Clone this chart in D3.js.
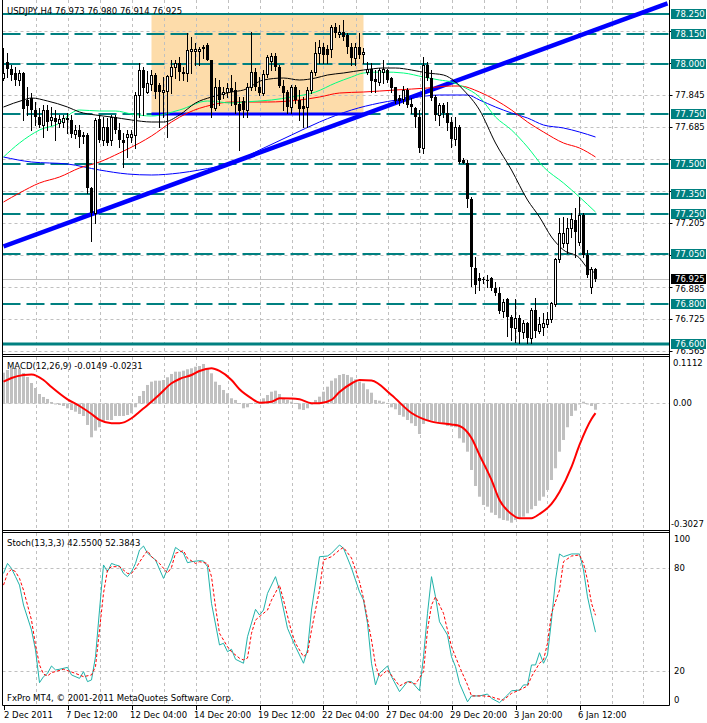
<!DOCTYPE html>
<html><head><meta charset="utf-8">
<script src="https://cdn.jsdelivr.net/npm/d3@7"></script>
<style>
body{margin:0;background:#fff}
svg{display:block}
text{font-family:"DejaVu Sans",sans-serif;font-size:8.5px}
</style>
</head><body>
<svg id="c" width="707" height="723"></svg>
<script>
// ---------------- DATA ----------------
const symbolTitle = "USDJPY,H4 76.973 76.980 76.914 76.925";
const openP = [77.930,78.010,77.975,77.955,77.920,77.955,77.820,77.830,77.770,77.735,
77.695,77.770,77.720,77.730,77.705,77.710,77.730,77.720,77.650,77.670,
77.645,77.645,77.380,77.255,77.725,77.620,77.685,77.620,77.735,77.670,
77.620,77.635,77.635,77.645,77.845,77.970,77.860,77.900,77.945,77.895,
77.860,77.865,77.940,77.985,78.005,77.960,77.955,78.065,78.065,78.065,
78.085,78.095,78.020,77.780,77.885,77.850,77.860,77.880,77.870,77.800,
77.815,77.770,77.885,77.960,77.885,77.855,77.950,78.015,78.040,77.985,
77.890,77.860,77.785,77.885,77.820,77.790,77.785,77.870,77.960,78.055,
78.085,78.075,78.075,78.185,78.150,78.160,78.145,78.085,78.030,78.085,
78.050,77.960,77.975,77.925,77.910,77.960,77.970,77.930,77.885,77.830,
77.825,77.870,77.800,77.780,77.735,77.580,77.995,77.930,77.835,77.745,
77.795,77.755,77.710,77.625,77.685,77.520,77.505,77.325,76.980,76.930,
76.925,76.915,76.930,76.880,76.855,76.765,76.825,76.735,76.680,76.730,
76.660,76.705,76.630,76.770,76.665,76.685,76.700,76.725,76.800,77.025,
77.105,77.105,77.180,77.220,77.110,77.245,77.045,76.885,76.973];
const highP = [78.080,78.055,77.995,77.985,77.970,77.960,77.885,77.855,77.810,77.780,
77.795,77.795,77.785,77.770,77.745,77.745,77.755,77.745,77.695,77.695,
77.660,77.655,77.385,77.730,77.745,77.735,77.730,77.745,77.745,77.705,
77.655,77.670,77.670,77.860,78.005,77.985,77.965,77.970,77.955,77.905,
77.935,77.945,78.020,78.020,78.035,77.985,78.155,78.135,78.105,78.085,
78.095,78.105,78.020,77.930,77.920,77.885,77.905,77.945,77.910,77.835,
77.835,77.905,78.160,77.980,77.935,77.970,78.045,78.055,78.055,77.995,
77.920,77.870,77.895,77.895,77.870,77.835,77.885,77.970,78.110,78.120,
78.105,78.095,78.195,78.205,78.195,78.220,78.155,78.105,78.105,78.155,
78.080,78.010,78.005,77.970,77.980,78.020,77.975,77.935,77.885,77.845,
77.890,77.880,77.830,77.785,77.770,78.035,78.010,77.970,77.845,77.805,
77.805,77.810,77.735,77.735,77.695,77.530,77.520,77.335,77.035,76.955,
76.935,76.945,76.935,76.910,76.885,76.825,76.830,76.745,76.825,76.745,
76.720,76.710,76.780,76.830,76.735,76.755,76.760,76.810,77.030,77.230,
77.235,77.230,77.255,77.280,77.335,77.255,77.070,76.985,76.980];
const lowP = [77.920,77.935,77.920,77.895,77.895,77.720,77.745,77.670,77.695,77.685,
77.635,77.670,77.695,77.620,77.685,77.685,77.655,77.635,77.630,77.585,
77.605,77.355,77.115,77.205,77.610,77.595,77.595,77.595,77.655,77.585,
77.485,77.535,77.610,77.580,77.735,77.745,77.855,77.870,77.830,77.685,
77.735,77.635,77.855,77.930,77.920,77.920,77.915,77.955,77.995,77.995,
78.030,78.020,77.735,77.770,77.795,77.830,77.835,77.795,77.755,77.570,
77.735,77.735,77.870,77.870,77.845,77.845,77.935,77.970,77.970,77.885,
77.770,77.755,77.755,77.805,77.720,77.685,77.685,77.855,77.945,78.005,
78.005,78.005,78.035,78.135,78.135,78.120,78.055,77.995,77.995,78.030,
78.005,77.950,77.860,77.860,77.895,77.905,77.910,77.860,77.805,77.795,
77.805,77.785,77.755,77.685,77.560,77.555,77.920,77.820,77.720,77.695,
77.735,77.670,77.585,77.595,77.505,77.505,77.285,76.890,76.855,76.870,
76.905,76.885,76.870,76.845,76.755,76.735,76.640,76.620,76.610,76.605,
76.630,76.605,76.605,76.635,76.655,76.645,76.685,76.710,76.790,77.010,
77.085,77.055,77.135,77.035,77.095,77.035,76.935,76.855,76.914];
const closeP = [77.955,77.975,77.945,77.920,77.955,77.775,77.790,77.770,77.735,77.695,
77.770,77.710,77.735,77.710,77.725,77.730,77.720,77.650,77.670,77.635,
77.635,77.380,77.255,77.720,77.620,77.685,77.605,77.735,77.670,77.620,
77.605,77.650,77.650,77.845,77.970,77.880,77.905,77.945,77.860,77.860,
77.870,77.940,77.985,78.005,77.960,77.950,78.070,78.075,78.075,78.075,
78.075,78.020,77.780,77.885,77.820,77.860,77.880,77.860,77.795,77.765,
77.770,77.885,77.960,77.885,77.855,77.950,78.035,78.040,77.985,77.890,
77.855,77.785,77.885,77.820,77.775,77.775,77.870,77.960,78.055,78.085,
78.045,78.045,78.185,78.155,78.160,78.135,78.085,78.030,78.085,78.045,
78.060,77.975,77.915,77.910,77.970,77.975,77.920,77.880,77.815,77.815,
77.870,77.795,77.785,77.735,77.580,77.995,77.930,77.830,77.745,77.795,
77.755,77.705,77.625,77.685,77.510,77.505,77.325,76.985,76.895,76.915,
76.920,76.920,76.880,76.855,76.765,76.810,76.735,76.680,76.730,76.660,
76.705,76.630,76.770,76.665,76.700,76.705,76.725,76.805,77.025,77.155,
77.155,77.180,77.225,77.160,77.245,77.045,76.945,76.975,76.925];

// moving averages, [bar index, price]
const maBlack = [[0,77.785],[5,77.82],[7,77.83],[11,77.815],[16,77.785],[19,77.76],[23,77.745],[27,77.735],[32,77.72],[37,77.71],[40,77.71],[44,77.745],[48,77.805],[52,77.835],[57,77.86],[60,77.87],[65,77.92],[70,77.93],[74,77.92],[78,77.93],[81,77.945],[85,77.955],[90,77.97],[95,77.98],[98,77.98],[102,77.97],[106,77.955],[110,77.945],[113,77.91],[115,77.87],[119,77.77],[123,77.605],[127,77.47],[131,77.32],[134,77.235],[137,77.135],[140,77.07],[144,77.03],[146,76.98],[148,76.955]];
const maGreen = [[0,77.535],[4,77.605],[9,77.67],[14,77.705],[17,77.755],[19,77.77],[24,77.765],[28,77.765],[32,77.75],[37,77.74],[44,77.77],[51,77.815],[57,77.805],[60,77.81],[67,77.82],[72,77.835],[78,77.86],[83,77.905],[87,77.935],[90,77.955],[95,77.96],[100,77.955],[105,77.935],[109,77.92],[112,77.91],[115,77.885],[119,77.835],[123,77.735],[127,77.67],[131,77.585],[135,77.485],[140,77.405],[144,77.335],[148,77.26]];
const maRed = [[0,77.31],[4,77.355],[9,77.405],[14,77.435],[19,77.48],[24,77.51],[29,77.555],[34,77.605],[37,77.64],[42,77.71],[46,77.755],[52,77.795],[57,77.81],[66,77.81],[74,77.82],[79,77.835],[84,77.855],[90,77.86],[98,77.87],[106,77.88],[112,77.89],[114,77.89],[119,77.86],[123,77.82],[127,77.77],[131,77.71],[135,77.66],[140,77.605],[144,77.58],[148,77.535]];
const maBlue = [[0,77.535],[7,77.51],[16,77.50],[24,77.47],[31,77.45],[37,77.445],[44,77.455],[49,77.47],[53,77.485],[57,77.505],[64,77.57],[72,77.645],[79,77.71],[87,77.77],[94,77.805],[102,77.83],[109,77.845],[116,77.845],[119,77.82],[123,77.785],[127,77.755],[131,77.73],[135,77.695],[140,77.68],[144,77.66],[148,77.635]];

// drawn objects
const levelPrices = [78.250,78.150,78.000,77.750,77.500,77.350,77.250,77.050,76.800,76.600];
const levelSolid  = [true,false,false,false,false,false,false,false,false,true];
const gridPrices  = [78.165,78.005,77.845,77.685,77.525,77.365,77.205,77.045,76.885,76.725,76.565];
const gridLabelPrices = [77.845,77.685,77.205,76.885,76.725,76.565];
const trendPoints = [[0,77.088],[166,78.303]];
const boxRange    = [37,90,77.750,78.250];
const lastPrice   = 76.925;

// time axis
const timeIdx    = [0,16,32,48,64,80,96,112,128,144];
const timeLabels = ["2 Dec 2011","7 Dec 12:00","12 Dec 04:00","14 Dec 20:00","19 Dec 12:00","22 Dec 04:00","27 Dec 04:00","29 Dec 20:00","3 Jan 20:00","6 Jan 12:00"];

// MACD
const macdHist = [0.0737,0.0801,0.0849,0.0849,0.0825,0.0730,0.0634,0.0490,0.0371,0.0227,
0.0156,0.0108,0.0036,-0.0010,-0.0036,-0.0060,-0.0115,-0.0156,-0.0196,-0.0251,
-0.0299,-0.0514,-0.0809,-0.0651,-0.0569,-0.0435,-0.0395,-0.0395,-0.0299,-0.0299,
-0.0299,-0.0275,-0.0234,-0.0091,0.0179,0.0299,0.0443,0.0522,0.0545,0.0545,
0.0562,0.0627,0.0706,0.0761,0.0761,0.0785,0.0818,0.0842,0.0880,0.0897,
0.0945,0.0842,0.0722,0.0522,0.0443,0.0323,0.0244,0.0124,0.0084,0.0012,
-0.0115,-0.0091,0.0012,0.0019,0.0043,0.0124,0.0203,0.0282,0.0306,0.0227,
0.0124,0.0084,0.0043,0.0012,-0.0139,-0.0156,-0.0115,-0.0012,0.0084,0.0163,
0.0282,0.0402,0.0545,0.0603,0.0682,0.0706,0.0682,0.0627,0.0579,0.0526,
0.0483,0.0340,0.0258,0.0084,0.0067,0.0043,0.0012,-0.0091,-0.0139,-0.0275,
-0.0316,-0.0395,-0.0474,-0.0538,-0.0730,-0.0490,-0.0411,-0.0411,-0.0435,-0.0459,
-0.0474,-0.0538,-0.0555,-0.0569,-0.0833,-0.0938,-0.1153,-0.1591,-0.1974,-0.2230,
-0.2428,-0.2469,-0.2612,-0.2667,-0.2746,-0.2787,-0.2804,-0.2852,-0.2787,-0.2746,
-0.2708,-0.2627,-0.2531,-0.2452,-0.2325,-0.2230,-0.2069,-0.1830,-0.1550,-0.1153,
-0.0873,-0.0569,-0.0299,-0.0172,-0.0012,0.0043,-0.0012,-0.0060,-0.0149];
const macdSignal = [[0,0.0522],[2,0.0610],[5,0.0682],[7,0.0694],[10,0.0562],[12,0.0395],[16,0.0100],[19,-0.0060],[22,-0.0251],[24,-0.0395],[27,-0.0474],[29,-0.0474],[32,-0.0354],[34,-0.0196],[37,0.0043],[39,0.0215],[42,0.0483],[44,0.0586],[47,0.0682],[49,0.0778],[52,0.0842],[54,0.0778],[57,0.0562],[59,0.0340],[62,0.0124],[64,0.0019],[67,0.0043],[69,0.0124],[72,0.0120],[74,0.0100],[77,0.0005],[79,0.0005],[82,0.0084],[84,0.0275],[87,0.0478],[89,0.0562],[92,0.0550],[97,0.0203],[102,-0.0227],[107,-0.0435],[112,-0.0502],[114,-0.0538],[117,-0.0825],[119,-0.1232],[122,-0.1830],[124,-0.2309],[127,-0.2644],[129,-0.2746],[132,-0.2746],[134,-0.2644],[137,-0.2404],[139,-0.2117],[142,-0.1519],[144,-0.0993],[147,-0.0371],[148,-0.0231]];
const macdTicks = [0.1112,0.00,-0.3027];

// Stochastic
const stochMain = [[0,76.7],[1,82.5],[2,79.6],[3,74.8],[4,69.9],[5,58.3],[7,43.8],[8,32.2],[9,13.2],[10,16.7],[11,18.6],[12,22.9],[13,20.6],[14,21.0],[16,22.1],[17,17.7],[19,15.7],[20,19.6],[21,13.8],[22,14.8],[23,28.3],[24,55.4],[25,81.6],[26,77.7],[27,82.5],[28,81.6],[29,81.0],[30,76.7],[31,74.8],[32,77.7],[33,82.5],[34,90.3],[35,92.6],[36,88.4],[38,84.5],[40,73.8],[42,84.5],[43,91.8],[45,88.4],[46,82.9],[47,83.5],[49,84.1],[50,83.9],[51,80.6],[52,59.3],[54,35.1],[55,36.1],[56,31.2],[57,32.6],[58,26.8],[60,24.5],[61,39.9],[63,55.8],[64,52.5],[65,55.4],[66,65.1],[68,74.8],[69,67.0],[71,44.8],[73,34.1],[75,24.5],[76,32.2],[77,55.4],[79,86.4],[81,86.8],[82,88.4],[84,93.2],[85,91.3],[87,79.8],[88,72.8],[89,66.0],[90,61.2],[91,47.7],[92,24.5],[93,11.9],[94,18.6],[96,22.9],[97,16.7],[99,8.0],[101,13.8],[102,13.8],[104,8.5],[105,28.3],[106,53.5],[107,74.8],[108,63.1],[109,48.6],[111,40.9],[112,28.3],[113,22.5],[114,12.8],[116,2.1],[117,5.5],[119,5.5],[121,6.6],[122,4.1],[124,1.6],[126,6.0],[127,8.5],[129,8.9],[130,11.9],[131,11.9],[132,23.5],[133,23.5],[134,30.6],[135,24.5],[136,29.3],[137,49.6],[138,72.8],[139,88.0],[140,86.4],[142,88.0],[144,88.0],[145,78.7],[146,63.1],[147,52.4],[148,42.55]];
const stochSignal = [[0,69.9],[1,76.7],[2,79.1],[3,77.7],[4,73.8],[5,67.0],[6,58.3],[7,49.6],[8,35.1],[9,23.5],[10,18.2],[11,17.1],[12,19.0],[15,21.0],[18,18.6],[20,16.7],[22,17.7],[23,22.5],[24,43.8],[25,65.1],[26,78.7],[27,80.6],[29,80.6],[31,76.7],[32,76.7],[33,79.6],[35,86.8],[36,89.9],[37,86.4],[39,82.5],[41,76.9],[42,80.2],[43,88.4],[45,89.9],[46,85.5],[48,82.5],[49,83.5],[51,82.5],[52,74.8],[53,57.3],[54,41.9],[56,34.1],[57,31.2],[59,27.4],[60,26.4],[61,27.5],[62,41.9],[63,49.6],[65,53.5],[66,55.4],[67,61.2],[69,69.9],[70,61.2],[72,42.8],[73,36.1],[75,28.3],[76,30.3],[77,43.8],[78,55.4],[79,67.0],[80,84.5],[82,86.4],[84,90.3],[85,91.8],[87,85.6],[89,71.9],[90,62.2],[92,38.0],[93,23.5],[94,16.5],[96,20.6],[99,11.3],[101,13.8],[103,12.4],[105,19.6],[106,43.8],[107,58.3],[108,63.1],[110,53.5],[111,43.8],[112,34.1],[114,22.5],[116,11.9],[117,5.5],[120,5.5],[122,5.1],[123,4.1],[125,3.1],[127,7.0],[129,8.9],[131,11.3],[132,16.7],[134,24.5],[135,26.4],[136,36.1],[137,53.5],[139,67.0],[140,83.5],[142,86.8],[144,87.4],[145,82.5],[146,72.8],[147,59.3],[148,52.3843]];
const stochTicks = [100,80,20,0];

// ---------------- DRAW ----------------
const svg = d3.select('#c');
const L = 2.5, R = 669.5;
const P = {main:[0,354.5], macd:[356.5,530.5], stoch:[532.5,705.5]};
const x  = d3.scaleLinear().domain([0,166]).range([3.5,667.5]);
const yP = d3.scaleLinear().domain([76.555,78.32]).range([353,0]);
const yM = d3.scaleLinear().domain([-0.3027,0.1112]).range([530,357]);
const yS = d3.scaleLinear().domain([0,100]).range([705.4,533.3]);
const GRID = '#c0c0c0', TEAL = '#008080';
const bars = d3.range(openP.length);
const vGrid = d3.range(8,166,8);

const defs = svg.append('defs');
function clip(id, y0, y1){
  defs.append('clipPath').attr('id',id).append('rect').attr('x',L+0.5).attr('y',y0).attr('width',R-L-1).attr('height',y1-y0);
}
clip('cm',0,354); clip('cd',357,530); clip('cs',533,705);
defs.append('clipPath').attr('id','ca').append('rect').attr('x',R).attr('y',0).attr('width',40).attr('height',354);

// ===== main panel =====
const gm = svg.append('g').attr('clip-path','url(#cm)');
gm.append('rect')
  .attr('x',x(boxRange[0])).attr('width',x(boxRange[1])-x(boxRange[0]))
  .attr('y',yP(boxRange[3])).attr('height',yP(boxRange[2])-yP(boxRange[3]))
  .attr('fill','#fddcaa');
gm.selectAll('line.vg').data(vGrid).join('line').attr('class','vg')
  .attr('x1',d=>Math.round(x(d))+0.5).attr('x2',d=>Math.round(x(d))+0.5).attr('y1',0).attr('y2',354)
  .attr('stroke',GRID).attr('stroke-dasharray','3,3');
gm.selectAll('line.hg').data(gridPrices).join('line').attr('class','hg')
  .attr('x1',L).attr('x2',R).attr('y1',d=>Math.round(yP(d))+0.5).attr('y2',d=>Math.round(yP(d))+0.5)
  .attr('stroke',GRID).attr('stroke-dasharray','3,3');
gm.append('line').attr('x1',L).attr('x2',R).attr('y1',Math.round(yP(lastPrice))+0.5).attr('y2',Math.round(yP(lastPrice))+0.5)
  .attr('stroke',GRID);
gm.selectAll('line.lv').data(levelPrices).join('line').attr('class','lv')
  .attr('x1',L).attr('x2',R).attr('y1',d=>Math.round(yP(d))).attr('y2',d=>Math.round(yP(d)))
  .attr('stroke',TEAL).attr('stroke-width',(d,i)=>levelSolid[i]?(i===0?2:3):2)
  .attr('stroke-dasharray',(d,i)=>levelSolid[i]?null:'18,6');
gm.append('line')
  .attr('x1',x(trendPoints[0][0])).attr('y1',yP(trendPoints[0][1]))
  .attr('x2',x(trendPoints[1][0])).attr('y2',yP(trendPoints[1][1]))
  .attr('stroke','#0000ff').attr('stroke-width',4.5);
gm.append('line')
  .attr('x1',x(boxRange[0])).attr('x2',x(boxRange[1]))
  .attr('y1',yP(boxRange[2])).attr('y2',yP(boxRange[2]))
  .attr('stroke','#0000ff').attr('stroke-width',3);
const maLine = d3.line().x(d=>x(d[0])).y(d=>yP(d[1])).curve(d3.curveMonotoneX);
[[maBlue,'#0000ff'],[maRed,'#ff0000'],[maGreen,'#00ff7f'],[maBlack,'#000000']].forEach(([d,c])=>{
  gm.append('path').attr('d',maLine(d)).attr('fill','none').attr('stroke',c).attr('stroke-width',1);
});
const cg = gm.append('g');
cg.selectAll('line.wk').data(bars).join('line').attr('class','wk')
  .attr('x1',i=>x(i)).attr('x2',i=>x(i))
  .attr('y1',i=>Math.round(yP(highP[i]))).attr('y2',i=>Math.round(yP(lowP[i]))+1)
  .attr('stroke','#000');
cg.selectAll('rect.bd').data(bars).join('rect').attr('class','bd')
  .each(function(i){
    const o=openP[i], c=closeP[i];
    const top=Math.round(yP(Math.max(o,c))), bot=Math.round(yP(Math.min(o,c)));
    const s=d3.select(this);
    if(c>o && bot-top>=2){
      s.attr('x',x(i)-1).attr('width',2).attr('y',top+0.5).attr('height',bot-top)
       .attr('fill','#fff').attr('stroke','#000');
    } else {
      s.attr('x',x(i)-1.5).attr('width',3).attr('y',top).attr('height',Math.max(bot-top,1))
       .attr('fill','#000');
    }
  });
svg.append('text').attr('x',7).attr('y',13.5).text(symbolTitle).attr('fill','#000');

// price axis labels
const ga = svg.append('g').attr('clip-path','url(#ca)');
ga.selectAll('line.tk').data(gridPrices).join('line').attr('class','tk')
  .attr('x1',R).attr('x2',R+3).attr('y1',d=>Math.round(yP(d))+0.5).attr('y2',d=>Math.round(yP(d))+0.5).attr('stroke','#000');
ga.selectAll('text.gp').data(gridLabelPrices).join('text').attr('class','gp')
  .attr('x',675).attr('y',d=>yP(d)+(d===76.885?4.8:3.3)).text(d=>d.toFixed(3)).attr('fill','#000');
levelPrices.forEach(p=>{
  const yy = Math.round(yP(p));
  ga.append('rect').attr('x',671).attr('y',yy-5).attr('width',35).attr('height',10).attr('fill',TEAL);
  ga.append('text').attr('x',675).attr('y',yy+3.3).text(p.toFixed(3)).attr('fill','#fff');
});
{
  const yy = Math.round(yP(lastPrice));
  ga.append('rect').attr('x',671).attr('y',yy-5).attr('width',35).attr('height',10).attr('fill','#000');
  ga.append('text').attr('x',675).attr('y',yy+3.3).text(lastPrice.toFixed(3)).attr('fill','#fff');
}

// ===== MACD panel =====
const gd = svg.append('g').attr('clip-path','url(#cd)');
gd.selectAll('line.vg').data(vGrid).join('line').attr('class','vg')
  .attr('x1',d=>Math.round(x(d))+0.5).attr('x2',d=>Math.round(x(d))+0.5).attr('y1',357).attr('y2',530)
  .attr('stroke',GRID).attr('stroke-dasharray','3,3');
gd.selectAll('rect.h').data(bars).join('rect').attr('class','h')
  .attr('x',i=>x(i)-1.5).attr('width',3)
  .attr('y',i=>Math.min(yM(0),yM(macdHist[i]))).attr('height',i=>Math.max(1,Math.abs(yM(macdHist[i])-yM(0))))
  .attr('fill','#c0c0c0');
gd.append('line').attr('x1',L).attr('x2',R).attr('y1',Math.round(yM(0))+0.5).attr('y2',Math.round(yM(0))+0.5)
  .attr('stroke',GRID).attr('stroke-dasharray','3,3');
gd.append('path').attr('d',d3.line().x(d=>x(d[0])).y(d=>yM(d[1])).curve(d3.curveMonotoneX)(macdSignal))
  .attr('fill','none').attr('stroke','#ff0000').attr('stroke-width',2);
svg.append('text').attr('x',7).attr('y',368.5).text('MACD(12,26,9) -0.0149 -0.0231').attr('fill','#000');
svg.append('text').attr('x',673).attr('y',366).text(macdTicks[0].toFixed(4));
svg.append('text').attr('x',673).attr('y',406).text(macdTicks[1].toFixed(2));
svg.append('text').attr('x',671).attr('y',527).text(macdTicks[2].toFixed(4));

// ===== Stoch panel =====
const gs = svg.append('g').attr('clip-path','url(#cs)');
gs.selectAll('line.vg').data(vGrid).join('line').attr('class','vg')
  .attr('x1',d=>Math.round(x(d))+0.5).attr('x2',d=>Math.round(x(d))+0.5).attr('y1',533).attr('y2',705)
  .attr('stroke',GRID).attr('stroke-dasharray','3,3');
gs.selectAll('line.hg').data([80,20]).join('line').attr('class','hg')
  .attr('x1',L).attr('x2',R).attr('y1',d=>Math.round(yS(d))+0.5).attr('y2',d=>Math.round(yS(d))+0.5)
  .attr('stroke',GRID).attr('stroke-dasharray','3,3');
const sLine = d3.line().x(d=>x(d[0])).y(d=>yS(d[1]));
gs.append('path').attr('d',sLine(stochMain)).attr('fill','none').attr('stroke','#20b2aa').attr('stroke-width',1);
gs.append('path').attr('d',sLine(stochSignal)).attr('fill','none').attr('stroke','#ff0000').attr('stroke-width',1).attr('stroke-dasharray','3,2');
svg.append('text').attr('x',7).attr('y',546).text('Stoch(13,3,3) 42.5500 52.3843');
svg.append('text').attr('x',7).attr('y',700.5).text('FxPro MT4, \u00a9 2001-2011 MetaQuotes Software Corp.');
svg.append('text').attr('x',674).attr('y',542).text(String(stochTicks[0]));
svg.append('text').attr('x',674).attr('y',yS(80)+3.3).text(String(stochTicks[1]));
svg.append('text').attr('x',674).attr('y',yS(20)+3.3).text(String(stochTicks[2]));
svg.append('text').attr('x',674).attr('y',702.5).text(String(stochTicks[3]));

// ===== time axis =====
svg.selectAll('text.tl').data(timeIdx).join('text').attr('class','tl')
  .attr('x',(d,i)=>i===0?x(d)+0.5:x(d)-1.5).attr('y',718).text((d,i)=>timeLabels[i]);
svg.selectAll('line.tt').data(timeIdx).join('line').attr('class','tt')
  .attr('x1',d=>Math.round(x(d))+0.5).attr('x2',d=>Math.round(x(d))+0.5).attr('y1',706).attr('y2',710).attr('stroke','#000');

// ===== frames =====
const fr = svg.append('g').attr('stroke','#000').attr('fill','none');
fr.append('line').attr('x1',L).attr('x2',L).attr('y1',0).attr('y2',705.5);
fr.append('line').attr('x1',R).attr('x2',R).attr('y1',0).attr('y2',705.5);
[P.main[1],P.macd[0],P.macd[1],P.stoch[0],P.stoch[1]].forEach(yy=>{
  fr.append('line').attr('x1',L).attr('x2',R).attr('y1',yy).attr('y2',yy);
});
</script>
</body></html>
